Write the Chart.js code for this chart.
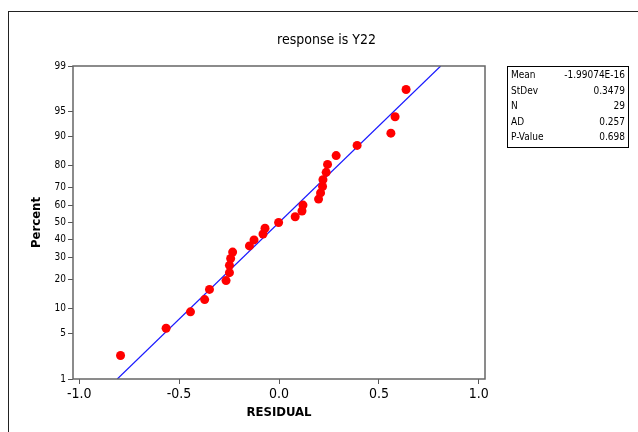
<!DOCTYPE html>
<html><head><meta charset="utf-8">
<script src="https://cdn.jsdelivr.net/npm/chart.js@4.4.0/dist/chart.umd.min.js"></script>
<style>html,body{margin:0;padding:0;background:#fff;overflow:hidden}#wrap{position:relative;width:638px;height:432px}</style>
</head><body><div id="wrap"><canvas id="c" width="638" height="432"></canvas></div>
<script>
// ---- data ----
const residuals = [-0.793, -0.565, -0.443, -0.372, -0.348, -0.265, -0.248, -0.248, -0.242, -0.232,
                   -0.148, -0.125, -0.080, -0.070, -0.002, 0.081, 0.115, 0.120, 0.198, 0.208,
                   0.218, 0.220, 0.236, 0.243, 0.286, 0.391, 0.560, 0.581, 0.636];
const percents  = [2.4, 5.8, 9.2, 12.6, 16.0, 19.4, 22.8, 26.2, 29.6, 33.0,
                   36.4, 39.8, 43.2, 46.6, 50.0, 53.4, 56.8, 60.2, 63.6, 67.0,
                   70.4, 73.8, 77.2, 80.6, 84.0, 87.4, 90.8, 94.2, 97.6];
const yTickPercents = [1, 5, 10, 20, 30, 40, 50, 60, 70, 80, 90, 95, 99];
const xTickValues = [-1.0, -0.5, 0.0, 0.5, 1.0];
const statLabels = ['Mean', 'StDev', 'N', 'AD', 'P-Value'];
const statValues = ['-1.99074E-16', '0.3479', '29', '0.257', '0.698'];
const fitMean = -1.99074e-16;
const fitStDev = 0.3479;
const titleText = 'response is Y22';
const xTitle = 'RESIDUAL';
const yTitle = 'Percent';

// inverse normal CDF (probability scale)
function probit(p) {
  const a=[-3.969683028665376e+01,2.209460984245205e+02,-2.759285104469687e+02,1.383577518672690e+02,-3.066479806614716e+01,2.506628277459239e+00];
  const b=[-5.447609879822406e+01,1.615858368580409e+02,-1.556989798598866e+02,6.680131188771972e+01,-1.328068155288572e+01];
  const c=[-7.784894002430293e-03,-3.223964580411365e-01,-2.400758277161838e+00,-2.549732539343734e+00,4.374664141464968e+00,2.938163982698783e+00];
  const d=[7.784695709041462e-03,3.224671290700398e-01,2.445134137142996e+00,3.754408661907416e+00];
  const pl=0.02425, ph=1-pl; let q,r;
  if (p<pl){q=Math.sqrt(-2*Math.log(p));return (((((c[0]*q+c[1])*q+c[2])*q+c[3])*q+c[4])*q+c[5])/((((d[0]*q+d[1])*q+d[2])*q+d[3])*q+1);}
  if (p<=ph){q=p-0.5;r=q*q;return (((((a[0]*r+a[1])*r+a[2])*r+a[3])*r+a[4])*r+a[5])*q/(((((b[0]*r+b[1])*r+b[2])*r+b[3])*r+b[4])*r+1);}
  q=Math.sqrt(-2*Math.log(1-p));return -(((((c[0]*q+c[1])*q+c[2])*q+c[3])*q+c[4])*q+c[5])/((((d[0]*q+d[1])*q+d[2])*q+d[3])*q+1);
}

const zLo = probit(yTickPercents[0] / 100);
const zHi = probit(yTickPercents[yTickPercents.length - 1] / 100);
const points = residuals.map((r, i) => ({x: r, y: probit(percents[i] / 100)}));
const fitLine = [{x: fitMean + fitStDev * zLo, y: zLo}, {x: fitMean + fitStDev * zHi, y: zHi}];

const FONT = '"DejaVu Sans Condensed", "Liberation Sans Narrow", "DejaVu Sans", sans-serif';

const decor = {
  id: 'decor',
  beforeDraw(chart) {
    const ctx = chart.ctx;
    ctx.save();
    ctx.fillStyle = '#fff';
    ctx.fillRect(0, 0, chart.width, chart.height);
    ctx.strokeStyle = '#222';
    ctx.lineWidth = 1;
    ctx.strokeRect(8.5, 11.5, 700, 500);
    ctx.restore();
  },
  afterDraw(chart) {
    const ctx = chart.ctx, a = chart.chartArea;
    ctx.save();
    ctx.strokeStyle = '#666';
    ctx.lineWidth = 1.5;
    ctx.strokeRect(a.left, a.top, a.right - a.left, a.bottom - a.top);
    // title
    ctx.fillStyle = '#000';
    ctx.font = '14px ' + FONT;
    ctx.textAlign = 'center';
    ctx.textBaseline = 'middle';
    ctx.fillText(titleText, 326.5, 40);
    // stats box
    ctx.strokeStyle = '#000';
    ctx.lineWidth = 1;
    ctx.strokeRect(507.5, 66.5, 121, 81);
    ctx.font = '10px ' + FONT;
    statLabels.forEach((lab, i) => {
      const y = 75.5 + i * 15.5;
      ctx.textAlign = 'left';
      ctx.fillText(lab, 511, y);
      ctx.textAlign = 'right';
      ctx.fillText(statValues[i], 625, y);
    });
    ctx.restore();
  }
};

new Chart(document.getElementById('c'), {
  type: 'scatter',
  data: {
    datasets: [
      {type: 'line', data: fitLine, borderColor: '#1a1aff', borderWidth: 1.2, pointRadius: 0, fill: false, order: 2},
      {data: points, backgroundColor: '#ff0000', borderColor: '#ff0000', borderWidth: 0, pointRadius: 4.5, order: 1}
    ]
  },
  options: {
    responsive: false,
    devicePixelRatio: 1,
    animation: false,
    layout: {padding: {left: 0, top: 66, right: 153, bottom: 0}},
    plugins: {legend: {display: false}, tooltip: {enabled: false}},
    scales: {
      x: {
        type: 'linear', min: -1.031, max: 1.031,
        afterFit(s) { s.height = 53; },
        afterBuildTicks(s) { s.ticks = xTickValues.map(v => ({value: v})); },
        grid: {display: true, drawOnChartArea: false, drawTicks: true, tickLength: 5, color: '#555'},
        border: {display: false},
        ticks: {color: '#000', padding: 2, maxRotation: 0, autoSkip: false,
                font: {family: FONT, size: 14}, callback: v => v.toFixed(1)},
        title: {display: true, text: xTitle, color: '#000', padding: {top: 0, bottom: 12},
                font: {family: FONT, size: 13, weight: 'bold'}}
      },
      y: {
        type: 'linear', min: zLo, max: zHi,
        afterFit(s) { s.width = 73; },
        afterBuildTicks(s) { s.ticks = yTickPercents.map(p => ({value: probit(p / 100)})); },
        grid: {display: true, drawOnChartArea: false, drawTicks: true, tickLength: 5, color: '#555'},
        border: {display: false},
        ticks: {color: '#000', padding: 2, autoSkip: false,
                font: {family: FONT, size: 10}, callback: (v, i) => String(yTickPercents[i])},
        title: {display: true, text: yTitle, color: '#000', padding: {top: 29, bottom: 0},
                font: {family: FONT, size: 13, weight: 'bold'}}
      }
    }
  },
  plugins: [decor]
});
</script></body></html>
